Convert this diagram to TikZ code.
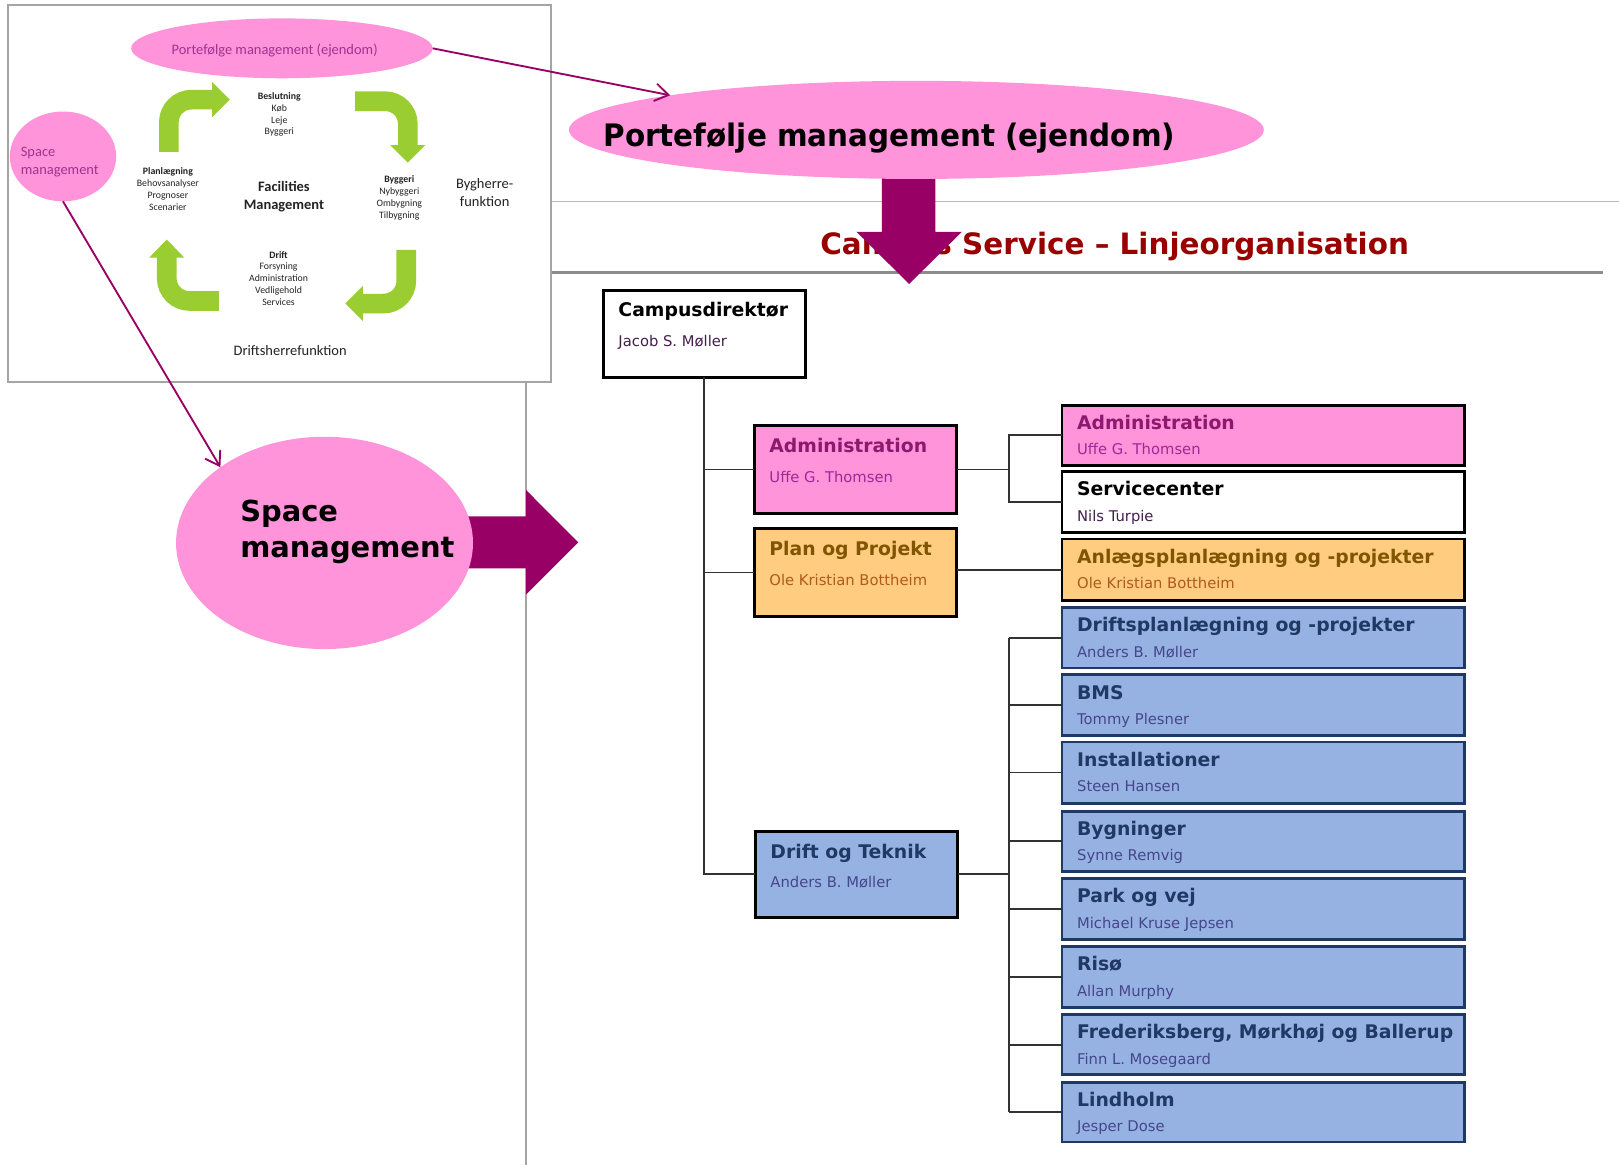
\documentclass[tikz,border=0pt]{standalone}
\usepackage{fontspec}
\setmainfont{DejaVu Sans}
\newfontfamily\carlito{Carlito}
\usetikzlibrary{arrows.meta,calc,shapes.geometric}

\definecolor{unitpink}{RGB}{255,148,218}
\definecolor{unitorange}{RGB}{255,204,128}
\definecolor{unitblue}{RGB}{150,178,226}
\definecolor{navy}{RGB}{31,56,100}
\definecolor{plum}{RGB}{153,0,102}
\definecolor{leaf}{RGB}{154,205,50}
\definecolor{panelgrey}{RGB}{165,165,165}
\definecolor{rulegrey}{RGB}{140,140,140}
\definecolor{titlered}{RGB}{153,0,0}
\definecolor{mauve}{RGB}{160,50,145}
\definecolor{linkgrey}{RGB}{50,50,50}

\tikzset{
  unitbox/.style={rectangle,draw=black,line width=2.8,inner sep=0,outer sep=0},
  unittitle/.style={inner sep=0,font=\bfseries\fontsize{18.2}{22}\selectfont},
  unitname/.style={inner sep=0,font=\fontsize{14.3}{17}\selectfont},
  white unit/.style={fill=white},
  white unit title/.style={text=black},
  white unit name/.style={text={rgb,255:red,70;green,30;blue,80}},
  pink unit/.style={fill=unitpink},
  pink unit title/.style={text={rgb,255:red,140;green,25;blue,110}},
  pink unit name/.style={text={rgb,255:red,160;green,40;blue,150}},
  orange unit/.style={fill=unitorange},
  orange unit title/.style={text={rgb,255:red,128;green,85;blue,0}},
  orange unit name/.style={text={rgb,255:red,175;green,90;blue,30}},
  blue unit/.style={fill=unitblue,draw=navy},
  blue unit title/.style={text=navy},
  blue unit name/.style={text={rgb,255:red,70;green,70;blue,140}},
  bluehead unit/.style={fill=unitblue},
  bluehead unit title/.style={text=navy},
  bluehead unit name/.style={text={rgb,255:red,70;green,70;blue,140}},
  link/.style={draw=linkgrey,line width=1.6},
  plumline/.style={draw=plum,line width=1.8,-{Straight Barb[length=13pt,width=17pt]}},
  blob/.style={ellipse,fill=unitpink,inner sep=0,outer sep=0},
  cyclearrow/.style={draw=leaf,line width=19,rounded corners=22},
  cyclehead/.style={fill=leaf},
  panelsmall/.style={inner sep=0,align=center,text={rgb,255:red,35;green,35;blue,35},
    font=\carlito\fontsize{9.5}{11.4}\selectfont},
  panelmid/.style={inner sep=0,align=center,text={rgb,255:red,35;green,35;blue,35},
    font=\carlito\fontsize{14}{17.5}\selectfont},
  mauvetext/.style={inner sep=0,text=mauve,font=\carlito\fontsize{14}{17}\selectfont},
}

% one unit of the organisation chart: box, heading and person
\newcommand\orgunit[9]{%
  \node[unitbox,#3,minimum width=#4,minimum height=#5,anchor=north west] (#1) at (#2) {};
  \node[unittitle,#3 title,anchor=base west] (#1-t) at ($(#1.north west)+(14.5,#8)$) {#6};
  \node[unitname,#3 name,anchor=base west] (#1-n) at ($(#1.north west)+(14.5,#9)$) {#7};
}

\begin{document}
\begin{tikzpicture}[x=1pt,y=-1pt]
\useasboundingbox (0,0) rectangle (1568,1128);
\fill[white] (0,0) rectangle (1568,1128);

% slide rules
\draw[draw=panelgrey,line width=2] (509,360) -- (509,1128);
\draw[draw=panelgrey!80,line width=1.5] (534,195) -- (1568,195);
\draw[draw=rulegrey,line width=2.6] (534,264) -- (1552,264);

% facilities management panel
\draw[draw=panelgrey,line width=1.8,fill=white] (8,5) rectangle (534,370);

\node[blob,minimum width=292,minimum height=58] (smallport) at (273,46.8) {};
\node[mauvetext] (smallport-t) at (266,49) {Portefølge management (ejendom)};
\node[blob,minimum width=103,minimum height=87] (smallspace) at (61,151.5) {};
\node[mauvetext,anchor=base west] (smallspace-a) at (20,152) {Space};
\node[mauvetext,anchor=base west] (smallspace-b) at (20,169) {management};

% the four cycle arrows
\draw[cyclearrow] (163.5,147) -- (163.5,96.5) -- (206,96.5);
\fill[cyclehead] (205.5,79.5) -- (222.5,96.5) -- (205.5,113.5) -- cycle;
\draw[cyclearrow] (344,98) -- (395,98) -- (395,141);
\fill[cyclehead] (378,140.5) -- (412,140.5) -- (395,157.5) -- cycle;
\draw[cyclearrow] (393.5,242) -- (393.5,294) -- (351,294);
\fill[cyclehead] (351.5,277) -- (351.5,311) -- (334.5,294) -- cycle;
\draw[cyclearrow] (212,291.5) -- (161.5,291.5) -- (161.5,249);
\fill[cyclehead] (144.5,249.5) -- (178.5,249.5) -- (161.5,232) -- cycle;

\node[panelsmall] (beslut) at (270.5,111) {\textbf{Beslutning}\\Køb\\Leje\\Byggeri};
\node[panelsmall] (planl) at (162.6,183) {\textbf{Planlægning}\\Behovsanalyser\\Prognoser\\Scenarier};
\node[panelsmall] (bygg) at (386.7,191.6) {\textbf{Byggeri}\\Nybyggeri\\Ombygning\\Tilbygning};
\node[panelsmall] (driftc) at (269.8,269.4) {\textbf{Drift}\\Forsyning\\Administration\\Vedligehold\\Services};
\node[panelmid,font=\carlito\bfseries\fontsize{14}{17.7}\selectfont] (fm) at (275,190.6) {Facilities\\Management};
\node[panelmid,font=\carlito\fontsize{14}{17.2}\selectfont] (bygherre) at (469.4,186.1) {Bygherre-\\funktion};
\node[panelmid] (driftsherre) at (281,339) {Driftsherrefunktion};

% heading of the organisation chart
\node[inner sep=0,anchor=base,text=titlered,font=\bfseries\fontsize{28.5}{34}\selectfont]
  (title) at (1079.5,246) {Campus Service – Linjeorganisation};

% broad arrows
\fill[plum] (854,150) -- (906,150) -- (906,224.5) -- (931.5,224.5) -- (880.5,275)
  -- (829.5,224.5) -- (854,224.5) -- cycle;
\fill[plum] (440,500) -- (509.5,500) -- (509.5,474.6) -- (560,525.3) -- (509.5,575.8)
  -- (509.5,550.4) -- (440,550.4) -- cycle;

\node[blob,minimum width=673,minimum height=95] (bigport) at (887.5,125.8) {};
\node[inner sep=0,anchor=base west,font=\bfseries\fontsize{30}{36}\selectfont]
  (bigport-t) at (584.3,141.4) {\scalebox{0.95}[1]{Portefølje management (ejendom)}};
\node[blob,minimum width=287.6,minimum height=205.6] (bigspace) at (314.3,525.8) {};
\node[inner sep=0,anchor=base west,font=\bfseries\fontsize{28}{34}\selectfont]
  (bigspace-a) at (232.5,505.3) {Space};
\node[inner sep=0,anchor=base west,font=\bfseries\fontsize{28}{34}\selectfont]
  (bigspace-b) at (232.5,539.8) {management};

\draw[plumline] (smallport.east) -- (bigport.172);
\draw[plumline] (smallspace.south) -- (bigspace.144);

% organisation chart
\coordinate (jx) at (977,0);

\orgunit{campus}{584.3,281}{white unit}{195.4}{84.5}{Campusdirektør}{Jacob S. Møller}{26}{55}
\orgunit{admin}{730.5,412.3}{pink unit}{196}{85}{Administration}{Uffe G. Thomsen}{26}{55}
\orgunit{plan}{730.5,511.7}{orange unit}{196}{85.6}{Plan og Projekt}{Ole Kristian Bottheim}{26}{55}
\orgunit{drift}{731.5,805}{bluehead unit}{196}{83.5}{Drift og Teknik}{Anders B. Møller}{26}{55}

\orgunit{radmin}{1028.5,392.3}{pink unit}{389.5}{58.2}{Administration}{Uffe G. Thomsen}{23.5}{48}
\orgunit{rserv}{1028.5,456.8}{white unit}{389.5}{58.8}{Servicecenter}{Nils Turpie}{23.5}{48}
\orgunit{ranl}{1028.5,522}{orange unit}{389.5}{59.5}{Anlægsplanlægning og -projekter}{Ole Kristian Bottheim}{23.5}{48}
\orgunit{rdp}{1028.5,588.5}{blue unit}{389.5}{58.4}{Driftsplanlægning og -projekter}{Anders B. Møller}{23.5}{48}
\orgunit{rbms}{1028.5,653.5}{blue unit}{389.5}{58.5}{BMS}{Tommy Plesner}{23.5}{48}
\orgunit{rinst}{1028.5,718.6}{blue unit}{389.5}{59.2}{Installationer}{Steen Hansen}{23.5}{48}
\orgunit{rbyg}{1028.5,785.5}{blue unit}{389.5}{58.5}{Bygninger}{Synne Remvig}{23.5}{48}
\orgunit{rpark}{1028.5,851}{blue unit}{389.5}{59}{Park og vej}{Michael Kruse Jepsen}{23.5}{48}
\orgunit{rriso}{1028.5,916.8}{blue unit}{389.5}{59.2}{Risø}{Allan Murphy}{23.5}{48}
\orgunit{rfred}{1028.5,982.6}{blue unit}{389.5}{58.4}{Frederiksberg, Mørkhøj og Ballerup}{Finn L. Mosegaard}{23.5}{48}
\orgunit{rlind}{1028.5,1048}{blue unit}{389.5}{58}{Lindholm}{Jesper Dose}{23.5}{48}

% reporting lines
\draw[link] (campus.south) -- (campus.south |- drift.west) -- (drift.west);
\draw[link] (campus.south |- admin.west) -- (admin.west);
\draw[link] (campus.south |- plan.west) -- (plan.west);
\draw[link] (admin.east) -- (admin.east -| jx);
\draw[link] (radmin.west) -- (radmin.west -| jx) -- (rserv.west -| jx) -- (rserv.west);
\draw[link] (ranl.west) -- (ranl.west -| plan.east);
\draw[link] (drift.east) -- (drift.east -| jx);
\draw[link] (rdp.west -| jx) -- (rlind.west -| jx);
\foreach \u in {rdp,rbms,rinst,rbyg,rpark,rriso,rfred,rlind}
  \draw[link] (\u.west -| jx) -- (\u.west);
\end{tikzpicture}
\end{document}
